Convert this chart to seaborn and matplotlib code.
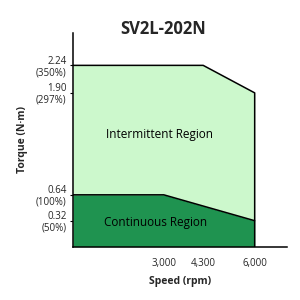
import matplotlib
matplotlib.use("Agg")
import matplotlib.pyplot as plt
import seaborn as sns
import pandas as pd

# Data
title = "SV2L-202N"
speed_inter = [0, 4300, 6000, 6000]
torque_inter = [2.24, 2.24, 1.90, 0.0]
speed_cont = [0, 3000, 6000]
torque_cont = [0.64, 0.64, 0.32]
xticks = [3000, 4300, 6000]
xtick_labels = ["3,000", "4,300", "6,000"]
yticks = [0.32, 0.64, 1.90, 2.24]
ytick_labels = ["0.32\n(50%)", "0.64\n(100%)", "1.90\n(297%)", "2.24\n(350%)"]

sns.set_theme(style="white")
plt.rcParams['font.family'] = ['Open Sans', 'DejaVu Sans']

fig = plt.figure(figsize=(3, 3), dpi=100)
ax = fig.add_axes([0.243, 0.178, 0.713, 0.712])

light = "#ccf8cc"
dark = "#1f9350"

ax.fill_between(speed_inter[:3], torque_inter[:3], 0, color=light, lw=0, zorder=1)
ax.fill_between(speed_cont, torque_cont, 0, color=dark, lw=0, zorder=2)

df_i = pd.DataFrame({"speed": speed_inter, "torque": torque_inter})
df_c = pd.DataFrame({"speed": speed_cont, "torque": torque_cont})
sns.lineplot(data=df_i, x="speed", y="torque", sort=False, estimator=None,
             color="black", lw=1.1, ax=ax, zorder=3)
sns.lineplot(data=df_c, x="speed", y="torque", sort=False, estimator=None,
             color="black", lw=1.1, ax=ax, zorder=3)

ax.set_xlim(0, 7060)
ax.set_ylim(0, 2.64)

ax.set_xticks(xticks)
ax.set_xticklabels(xtick_labels, fontsize=7)
ax.set_yticks(yticks)
ax.set_yticklabels(ytick_labels, fontsize=7, linespacing=1.05)
ax.tick_params(axis="y", length=2.5, width=0.8, color="black",
               direction="out", left=True, pad=2)
ax.tick_params(axis="x", bottom=False, pad=2)

for s in ["top", "right"]:
    ax.spines[s].set_visible(False)
for s in ["left", "bottom"]:
    ax.spines[s].set_color("black")
    ax.spines[s].set_linewidth(1.1)

ax.text(2870, 1.39, "Intermittent Region", ha="center", va="center", fontsize=8.5, color="black", zorder=4)
ax.text(2740, 0.30, "Continuous Region", ha="center", va="center", fontsize=8.5, color="black", zorder=4)

ax.set_xlabel("Speed (rpm)", fontsize=7.5, fontweight="bold", labelpad=5)
ax.set_ylabel("Torque (N·m)", fontsize=7.5, fontweight="bold", labelpad=6)
fig.text(0.543, 0.905, title, ha="center", va="center", fontsize=12, fontweight="bold")

fig.savefig("out.png", dpi=100, facecolor="white")
